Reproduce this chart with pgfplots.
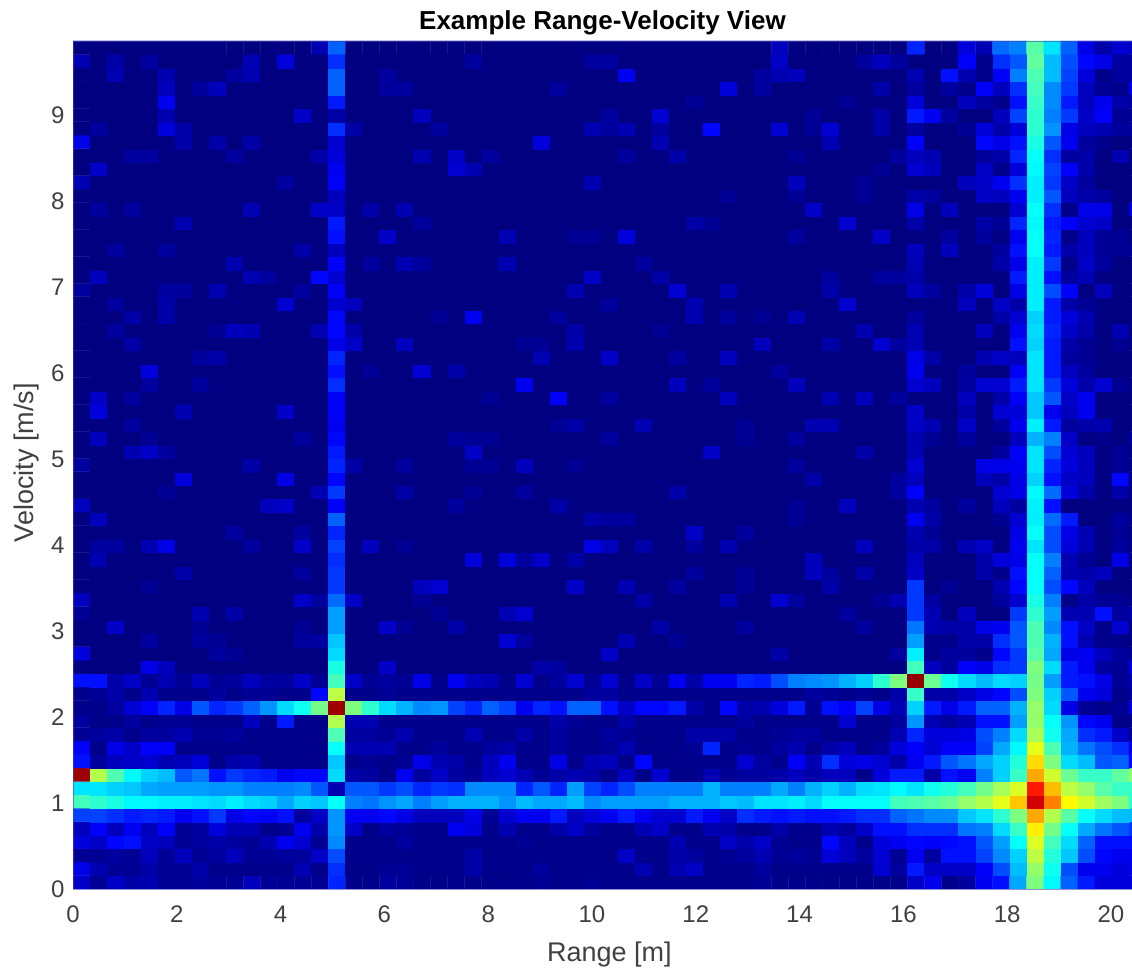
\documentclass[border=0pt]{standalone}
\usepackage{fontspec}
\setmainfont{Liberation Sans}
\usepackage{pgfplots}
\pgfplotsset{compat=1.18}
\definecolor{axgray}{gray}{0.25}
\newcommand\R[2]{\foreach \ci/\vi in {#2}{\expandafter\xdef\csname m#1-\ci\endcsname{\vi}}}
\newcommand\D[2]{\foreach \vi [count=\ci from 0] in {#2}{\expandafter\xdef\csname m#1-\ci\endcsname{\vi}}}
% rows counted from the top; cells not listed hold 0
\R{0}{14/5,15/22,41/6,49/16,52/9,53/5,54/23,55/25,56/46,57/35,58/22,59/10,60/4,61/8,62/6}
\R{1}{0/5,2/4,4/3,10/5,12/9,15/17,23/3,30/3,31/3,41/7,46/3,47/6,48/3,52/12,53/1,54/17,55/21,56/47,57/31,58/20,59/13,60/10,61/3,62/3}
\R{2}{2/5,5/5,9/3,10/5,15/22,18/3,32/11,40/3,41/5,42/6,49/5,51/14,52/5,53/1,54/12,55/25,56/45,57/31,58/19,59/9,60/1,61/3,62/3}
\R{3}{5/6,7/3,8/6,15/22,18/3,19/3,28/3,38/9,40/3,47/4,49/3,51/3,52/1,53/12,54/6,55/17,56/44,57/26,58/18,59/6,60/2,61/1,62/10}
\R{4}{5/11,15/15,36/2,45/2,49/9,52/6,53/3,54/1,55/14,56/43,57/26,58/15,59/6,60/11,61/4,62/3}
\R{5}{5/5,13/7,15/4,20/6,31/3,34/8,43/2,47/4,49/15,50/11,51/3,54/6,55/19,56/42,57/25,58/18,59/7,60/12,61/2,62/2}
\R{6}{1/3,5/9,6/4,15/17,16/4,21/3,30/5,31/3,32/5,34/3,37/13,41/8,43/2,44/8,47/4,49/3,52/2,53/9,54/4,55/9,56/42,57/27,58/10,59/6,60/5,61/3,62/3}
\R{7}{0/10,6/4,8/4,10/4,15/8,27/9,34/5,44/5,49/12,53/13,54/10,55/14,56/40,57/21,58/11,59/3,60/1}
\R{8}{3/3,4/3,9/3,14/4,15/9,20/5,22/7,24/3,32/3,35/4,42/2,48/3,49/6,50/5,53/3,54/4,55/16,56/38,57/17,58/3,59/4,61/5}
\R{9}{1/7,15/11,22/8,23/5,47/2,49/8,50/6,53/7,54/1,55/9,56/37,57/19,58/12,59/4}
\R{10}{0/5,12/3,15/12,30/5,42/6,46/2,52/6,53/7,54/11,55/17,56/36,57/18,58/7,59/3}
\R{11}{15/6,38/2,42/2,46/2,49/4,50/3,53/7,54/6,55/11,56/36,57/21,58/6,59/4,60/3}
\R{12}{1/3,3/3,10/5,14/7,15/7,17/4,19/5,43/7,49/10,51/6,55/8,56/38,57/17,58/1,59/10,60/10,62/9}
\R{13}{6/5,15/15,20/3,36/4,37/2,45/8,49/4,53/4,54/2,55/16,56/37,57/15,58/12,59/8,60/7}
\R{14}{15/14,18/7,25/5,29/2,30/2,32/9,42/3,47/7,51/3,53/3,55/11,56/38,57/16,58/1,59/6,60/2,61/2}
\R{15}{2/3,5/3,13/4,15/6,49/6,51/6,54/3,55/14,56/38,57/15,58/4,59/6,60/2,61/2,62/2}
\R{16}{9/5,15/12,17/3,19/5,20/3,25/5,33/3,49/5,54/4,55/10,56/36,57/18,58/1,59/7,60/3}
\R{17}{1/6,10/5,11/3,14/13,15/8,30/7,34/4,44/3,47/3,48/3,49/4,55/15,56/36,57/14,58/3,59/5}
\R{18}{0/3,5/3,6/3,8/5,13/3,15/12,29/5,35/8,38/5,44/4,49/6,50/3,52/4,53/9,55/10,56/36,57/20,58/12,60/6}
\R{19}{2/3,5/4,12/8,15/8,16/6,31/3,36/5,45/8,52/6,54/7,55/4,56/36,57/15,58/4,59/2}
\R{20}{3/4,5/4,15/13,21/2,23/11,28/3,36/5,38/3,40/2,42/5,49/3,54/4,55/8,56/33,57/15,58/9,59/5}
\R{21}{2/3,8/2,9/6,10/5,14/5,15/13,16/4,29/4,34/2,46/5,49/5,53/6,55/11,56/34,57/16,58/7,59/4,61/5}
\R{22}{3/4,15/10,16/7,19/6,26/2,27/2,29/5,40/6,44/4,47/8,48/3,49/5,55/14,56/33,57/15,58/4,59/2,61/2}
\R{23}{7/3,8/4,15/16,27/5,31/7,35/3,38/6,49/10,50/4,53/5,54/7,55/6,56/35,57/15,58/3,59/2}
\R{24}{4/9,15/14,17/2,20/8,22/4,41/3,49/11,52/3,55/12,56/35,57/15,58/6,59/3}
\R{25}{4/3,7/3,15/17,26/11,35/6,37/3,42/6,49/8,50/6,52/3,53/8,54/8,55/15,56/35,57/18,58/9,59/4,60/8,61/2}
\R{26}{1/7,3/3,15/12,24/2,28/12,31/3,38/6,44/5,46/6,48/3,52/6,54/4,55/12,56/32,57/21,58/7,59/11}
\R{27}{1/9,6/5,12/7,15/12,49/7,52/4,54/8,55/9,56/32,57/11,58/6,59/11}
\R{28}{3/3,15/11,28/2,29/4,33/5,39/2,43/5,44/5,49/7,50/5,52/7,54/3,55/11,56/36,57/15,58/3,59/4,60/5}
\R{29}{1/6,4/2,13/3,15/13,22/3,23/2,24/2,31/3,39/2,42/3,49/5,50/2,52/3,55/6,56/30,57/25,58/7,60/1,62/3}
\R{30}{3/5,4/7,5/3,15/15,23/7,37/7,46/4,49/5,54/3,55/12,56/35,57/20,58/8,59/6,61/2}
\R{31}{0/3,10/4,15/16,16/4,19/3,23/2,24/2,26/6,29/2,42/3,49/8,53/10,54/10,55/11,56/35,57/16,58/9,59/6,61/2}
\R{32}{6/9,12/10,15/13,43/4,48/3,49/6,53/6,54/4,55/10,56/33,57/14,58/7,59/6,61/13}
\R{33}{5/2,14/5,15/18,19/4,23/2,26/3,35/4,48/3,49/12,54/8,55/10,56/37,57/23,58/9,59/4,61/4}
\R{34}{0/6,11/6,12/7,15/12,22/3,28/4,42/2,45/6,49/5,50/3,52/3,54/6,55/3,56/36,57/14}
\R{35}{1/6,15/22,30/4,31/3,32/3,42/2,49/11,50/4,54/2,55/8,56/36,57/23,58/15,61/3}
\R{36}{9/3,13/3,15/16,36/7,39/3,49/5,50/2,55/10,56/38,57/20,58/10,59/5,61/2}
\R{37}{1/3,2/3,4/5,5/10,10/3,13/7,15/19,17/6,19/2,30/10,31/6,33/4,36/3,38/5,46/6,49/4,50/4,52/5,53/7,55/11,56/35,57/20,58/9,59/5,61/3}
\R{38}{1/5,15/17,23/9,25/9,26/3,27/7,29/4,43/6,49/6,53/4,54/9,55/10,56/38,57/25,58/5,59/2,61/10}
\R{39}{6/4,13/3,15/18,36/3,39/2,43/6,44/3,46/4,49/7,53/4,54/1,55/14,56/38,57/22,58/5,59/4,60/6}
\R{40}{4/2,15/18,20/6,21/8,29/7,32/5,35/3,39/2,44/4,49/18,51/2,54/5,55/13,56/38,57/20,58/13,59/6}
\R{41}{0/6,13/7,14/3,15/23,16/7,20/2,33/4,38/5,41/8,42/3,47/2,48/5,49/18,50/3,54/3,55/8,56/40,57/25,58/1,59/4,60/2,61/2}
\R{42}{0/2,7/5,9/4,15/28,21/2,25/5,26/8,45/3,49/18,50/5,52/6,55/18,56/42,57/28,58/5,59/5,60/14,61/3,62/4}
\R{43}{2/7,7/2,13/2,15/28,18/7,19/2,22/4,34/4,39/3,46/3,49/24,50/5,51/4,52/4,53/10,54/11,55/21,56/45,57/26,58/14,59/7,60/1,61/8}
\R{44}{4/3,7/3,8/2,13/3,14/3,15/32,25/8,26/3,32/5,35/2,49/28,50/1,51/1,52/4,53/4,54/17,55/21,56/45,57/30,58/14,59/5,60/1,61/1}
\R{45}{0/9,8/3,9/2,15/34,31/7,41/4,48/3,49/36,50/1,51/3,52/3,53/1,54/13,55/18,56/46,57/29,58/10,59/11,60/6,61/3,62/2}
\R{46}{4/10,5/6,15/40,18/7,27/4,28/3,49/44,50/6,51/3,52/12,53/10,54/17,55/18,56/50,57/34,58/15,59/11,60/3,61/2,62/9}
\D{47}{14,14,4,7,2,5,2,6,2,3,6,3,3,7,2,44,7,2,3,2,10,1,11,6,5,1,8,1,3,8,2,8,1,7,2,11,4,11,11,16,15,20,25,26,27,30,33,42,50,98,48,39,34,31,34,33,49,28,15,14,10,2,5}
\D{48}{1,2,4,1,5,1,1,1,3,1,2,2,1,1,13,56,1,1,2,1,1,1,1,1,1,1,1,1,1,1,3,3,1,1,1,1,1,1,1,1,1,1,1,3,2,1,2,1,4,43,4,4,7,10,13,20,50,33,21,11,9,1,3}
\D{49}{1,1,3,8,12,16,10,21,16,18,22,27,34,39,49,97,50,42,34,30,26,27,19,16,22,19,11,16,14,22,22,14,7,13,13,15,4,1,13,4,5,9,15,2,14,12,19,10,5,33,15,10,15,22,22,30,52,34,10,2,1,2,9}
\D{50}{3,1,1,3,1,2,2,1,1,1,6,1,15,1,1,55,5,5,1,1,1,1,1,1,1,1,1,1,4,2,1,1,4,1,1,1,1,1,1,3,1,1,1,1,1,8,1,1,3,27,5,3,5,14,14,28,52,38,27,13,11,1,1}
\D{51}{2,3,4,1,3,3,5,2,2,3,1,1,1,1,1,45,3,3,2,5,1,1,1,5,1,1,4,1,3,1,1,3,2,1,1,1,4,4,4,1,1,2,3,3,1,1,1,1,5,16,9,9,10,20,25,34,54,39,29,17,15,7,2}
\D{52}{12,1,10,7,12,12,1,1,1,1,1,1,1,1,1,38,5,5,5,1,1,3,1,1,3,4,1,1,3,1,1,2,5,1,1,1,2,16,1,2,1,3,5,1,4,6,1,3,9,12,8,12,12,19,29,37,60,45,30,24,20,17,10}
\D{53}{14,3,6,7,8,5,6,9,1,4,5,1,1,1,1,32,1,2,1,2,10,5,4,1,6,11,1,1,10,1,5,6,1,13,1,1,1,1,1,8,3,1,12,5,17,9,10,8,4,11,15,21,24,29,33,41,66,50,34,31,21,22,13}
\D{54}{97,55,45,37,33,31,21,24,14,18,16,15,11,13,13,34,4,3,1,11,3,7,3,2,6,8,5,2,4,5,4,1,7,1,8,1,1,5,2,3,3,4,6,4,6,6,1,9,15,15,4,14,11,25,33,43,71,58,48,43,43,47,52}
\D{55}{35,35,33,32,29,28,28,28,27,27,25,25,25,26,21,5,21,21,18,20,16,18,17,26,26,26,16,21,16,28,19,16,20,25,25,25,25,30,25,25,25,29,25,30,33,30,34,35,37,35,39,41,44,49,54,59,85,69,56,52,46,43,43}
\D{56}{44,42,40,37,37,36,36,35,34,36,34,33,29,33,32,38,25,24,27,29,25,28,30,30,30,27,31,29,29,31,26,28,28,28,28,30,30,30,32,31,35,35,36,34,38,38,38,38,44,45,46,48,52,55,60,68,92,75,63,58,53,50,42}
\D{57}{19,19,17,15,16,15,11,14,18,10,13,12,14,3,7,27,11,11,13,10,6,6,6,10,2,8,11,11,15,6,9,11,15,11,8,8,15,11,7,17,15,14,15,14,14,15,17,17,22,24,26,26,32,35,42,50,71,55,46,38,34,31,31}
\D{58}{6,12,6,11,6,12,2,3,9,5,5,1,2,11,4,27,7,1,3,2,1,1,11,9,1,5,1,1,4,7,3,1,1,5,7,1,1,5,4,1,1,4,1,1,5,3,7,14,14,17,17,17,24,25,34,43,64,49,38,29,24,21,18}
\D{59}{9,7,13,14,7,6,2,3,4,3,2,5,11,8,2,26,1,1,1,3,1,1,1,1,1,1,2,1,1,1,1,1,1,1,1,5,1,1,7,4,7,2,1,1,13,6,1,9,11,13,12,13,14,21,28,38,59,44,34,22,14,14,14}
\D{60}{2,2,3,2,6,2,6,2,3,6,2,2,3,3,7,20,1,1,1,1,1,1,1,4,1,1,1,1,1,1,1,1,7,1,1,4,3,1,2,3,5,2,3,2,9,6,3,8,2,11,3,14,14,19,26,33,56,41,32,20,13,11,11}
\D{61}{10,5,2,2,4,2,2,4,1,1,1,1,1,5,1,17,1,1,2,2,1,1,1,4,1,1,1,3,1,1,1,1,1,5,1,5,7,1,1,1,3,1,1,1,1,1,1,8,3,15,7,7,7,12,20,31,52,39,20,11,11,9,10}
\D{62}{7,2,7,4,5,2,2,3,2,2,6,2,2,2,2,16,1,1,3,2,1,1,1,1,1,1,1,2,1,1,2,1,1,1,1,1,1,1,1,1,2,1,1,1,1,1,1,1,1,7,11,1,3,11,14,29,50,37,22,15,9,9,9}
\gdef\coords{}
\foreach \ri in {62,61,...,0}{%
  \pgfmathsetmacro\yv{(62-\ri+0.5)*0.15651}%
  \gdef\rowc{}%
  \foreach \ci in {0,...,62}{%
    \pgfmathsetmacro\xv{(\ci+0.5)*0.32817}%
    \ifcsname m\ri-\ci\endcsname\xdef\vv{\csname m\ri-\ci\endcsname}\else\gdef\vv{0}\fi
    \xdef\rowc{\rowc (\xv,\yv) [\vv] }%
  }%
  \xdef\coords{\coords\rowc}%
}
\begin{document}
\begin{tikzpicture}[x=1pt,y=1pt]
\useasboundingbox (0,0) rectangle (1132,971);
\begin{axis}[
  at={(73pt,82pt)}, anchor=south west,
  scale only axis, width=1073pt, height=848pt,
  xmin=0, xmax=20.675, ymin=0, ymax=9.860,
  xtick={0,2,...,20}, ytick={0,1,...,9},
  axis line style={draw=blue!45!gray, line width=0.6pt, opacity=0.6},
  major tick length=0pt,
  /pgf/number format/assume math mode=true,
  tick label style={font=\fontsize{24}{28}\selectfont, text=axgray},
  xticklabel style={yshift=-13pt},
  yticklabel style={xshift=-5pt},
  xlabel={Range [m]}, ylabel={Velocity [m/s]},
  label style={font=\fontsize{27}{32}\selectfont, text=axgray},
  xlabel style={at={(axis description cs:0.5,0)}, anchor=center, yshift=-66pt},
  ylabel style={at={(axis description cs:0,0.5)}, anchor=center, yshift=46pt, xshift=2pt},
  title={\textbf{Example Range-Velocity View}},
  title style={font=\fontsize{26}{30}\selectfont, at={(axis description cs:0.5,1)}, anchor=center, xshift=-7pt, yshift=12pt},
  colormap={jetcm}{rgb255(0pt)=(0,0,128); rgb255(1pt)=(0,0,255); rgb255(3pt)=(0,255,255); rgb255(5pt)=(255,255,0); rgb255(7pt)=(255,0,0); rgb255(8pt)=(128,0,0)},
  point meta min=0, point meta max=100,
  axis on top,
]
\edef\doplot{\noexpand\addplot[matrix plot*, mesh/cols=63, point meta=explicit, draw=mapped color, line width=0.3pt] coordinates {\coords};}
\doplot
\end{axis}
\end{tikzpicture}
\end{document}
